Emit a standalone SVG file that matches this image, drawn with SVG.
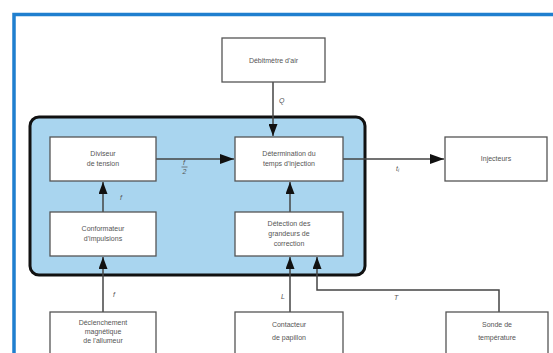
<svg xmlns="http://www.w3.org/2000/svg" width="553" height="353" viewBox="0 0 553 353">
<style>
.box{fill:#fff;stroke:#555;stroke-width:1.3}
.t{font-family:"Liberation Sans",Arial,sans-serif;font-size:7px;fill:#555;text-anchor:middle}
.l{font-family:"Liberation Sans",Arial,sans-serif;font-size:7px;fill:#555;font-style:italic}
.c{fill:none;stroke:#444;stroke-width:1.5}
</style>
<defs>
<marker id="a" viewBox="0 0 12 9" refX="12" refY="4.5" markerWidth="12" markerHeight="9" markerUnits="userSpaceOnUse" orient="auto">
<path d="M0,0 L12,4.5 L0,9 z" fill="#111"/>
</marker>
<marker id="b" viewBox="0 0 14 10" refX="14" refY="5" markerWidth="14" markerHeight="10" markerUnits="userSpaceOnUse" orient="auto">
<path d="M0,0 L14,5 L0,10 z" fill="#111"/>
</marker>
</defs>
<rect width="553" height="353" fill="#fff"/>
<path d="M14,353 V14.5 H553" fill="none" stroke="#1f7fcf" stroke-width="3.5"/>
<rect id="ecu" x="30" y="117" width="335" height="158" rx="9" fill="#a9d5ef" stroke="#111" stroke-width="3"/>
<g id="connectors">
<line class="c" x1="273" y1="82" x2="273" y2="136" marker-end="url(#a)"/>
<line class="c" x1="156" y1="159" x2="234" y2="159" marker-end="url(#b)"/>
<line class="c" x1="103" y1="212" x2="103" y2="182" marker-end="url(#a)"/>
<line class="c" x1="290" y1="212" x2="290" y2="182" marker-end="url(#a)"/>
<line class="c" x1="343" y1="159" x2="444" y2="159" marker-end="url(#b)"/>
<line class="c" x1="103" y1="312" x2="103" y2="257" marker-end="url(#a)"/>
<line class="c" x1="290" y1="312" x2="290" y2="257" marker-end="url(#a)"/>
<polyline class="c" points="499,312 499,290 317,290 317,257" marker-end="url(#a)"/>
<text class="l" x="279" y="103">Q</text>
<text class="l" x="120" y="200">f</text>
<text class="l" x="183" y="165">f</text>
<line x1="181.5" y1="167" x2="187.5" y2="167" stroke="#555" stroke-width="0.7"/>
<text class="l" x="182.5" y="174">2</text>
<text class="l" x="396" y="171">t<tspan font-size="5" dy="1">i</tspan></text>
<text class="l" x="113" y="297">f</text>
<text class="l" x="281" y="299">L</text>
<text class="l" x="394" y="300">T</text>
</g>
<g id="debitmetre"><rect class="box" x="222" y="38" width="103" height="44"/><text class="t" x="273.5" y="63">Débitmètre d'air</text></g>
<g id="diviseur"><rect class="box" x="50" y="137" width="106" height="44"/><text class="t" x="103" y="156">Diviseur</text><text class="t" x="103" y="166">de tension</text></g>
<g id="determination"><rect class="box" x="235" y="137" width="108" height="44"/><text class="t" x="289" y="156">Détermination du</text><text class="t" x="289" y="166">temps d'injection</text></g>
<g id="injecteurs"><rect class="box" x="445" y="137" width="102" height="44"/><text class="t" x="496" y="161">Injecteurs</text></g>
<g id="conformateur"><rect class="box" x="50" y="212" width="106" height="44"/><text class="t" x="103" y="231">Conformateur</text><text class="t" x="103" y="241">d'impulsions</text></g>
<g id="detection"><rect class="box" x="235" y="212" width="108" height="44"/><text class="t" x="289" y="226">Détection des</text><text class="t" x="289" y="236">grandeurs de</text><text class="t" x="289" y="246">correction</text></g>
<g id="declenchement"><rect class="box" x="50" y="312" width="106" height="50"/><text class="t" x="103" y="325">Déclenchement</text><text class="t" x="103" y="334">magnétique</text><text class="t" x="103" y="343">de l'allumeur</text></g>
<g id="contacteur"><rect class="box" x="235" y="312" width="108" height="50"/><text class="t" x="289" y="327">Contacteur</text><text class="t" x="289" y="340">de papillon</text></g>
<g id="sonde"><rect class="box" x="446" y="312" width="102" height="50"/><text class="t" x="497" y="327">Sonde de</text><text class="t" x="497" y="340">température</text></g>
</svg>
